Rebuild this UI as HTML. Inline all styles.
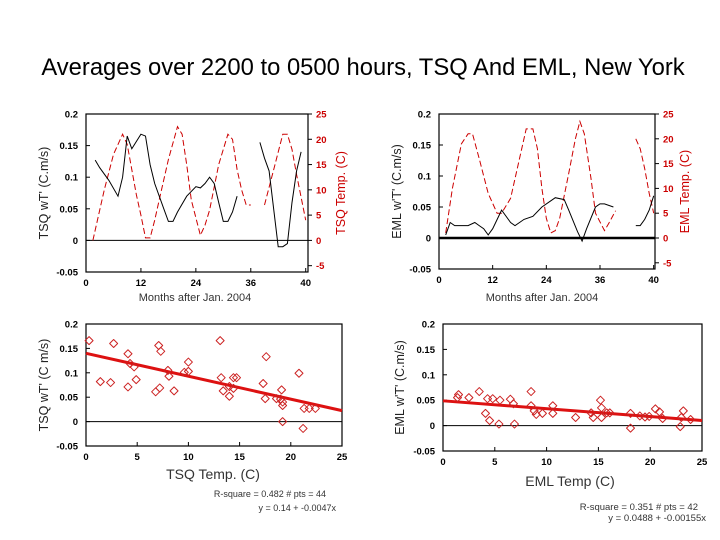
<!DOCTYPE html>
<html><head><meta charset="utf-8"><style>
body{margin:0;background:#fff;}
svg{display:block;font-family:"Liberation Sans",sans-serif;}
</style></head><body>
<svg id="c" width="720" height="540" viewBox="0 0 720 540">
<text x="363" y="75" font-size="23.8" text-anchor="middle">Averages over 2200 to 0500 hours, TSQ And EML, New York</text>
</svg>
<script>
// Panel 1: TSQ time series
const months1=[2,3,5,7,8,9,10,12,13,14,15,17,18,19,20,22,24,25,26,27,28,29,30,31,32,33,34,38,39,40,42,43,44,45,46,47];
const tsqFlux=[0.127,0.115,0.095,0.07,0.1,0.165,0.145,0.168,0.165,0.12,0.09,0.05,0.03,0.03,0.045,0.07,0.085,0.083,0.09,0.1,0.09,0.06,0.03,0.03,0.045,0.07,null,0.155,0.13,0.11,-0.01,-0.01,-0.005,0.06,0.11,0.14];
const monthsT1=[1.5,3,4,6,8,9,10,11,12,13,14,15,16,18,20,21,22,23,25,26,27,29,31,32,33,34,35,36,37,39,41,43,44,45,46,48];
const tsqTemp=[0,6,10,17,21,19,14,9,5,0.5,0.5,4,8,16,22.5,21,15,8,1,3,6,15,21,20,14,10,7,7,null,7,14,21,21,18,13,4];
// Panel 2: EML time series
const months2=[1.5,2.5,3.5,5,6.5,8,9,10,11,12,14,16,17,19,21,23,25,26,28,29,31,32,33,35,36,37,39,40,44,45,46,47,48];
const emlFlux=[0.005,0.025,0.02,0.02,0.02,0.025,0.02,0.015,0.005,0.015,0.045,0.025,0.02,0.03,0.035,0.05,0.06,0.065,0.062,0.045,0.01,-0.005,0.015,0.05,0.055,0.055,0.05,null,0.02,0.02,0.03,0.045,0.068];
const monthsT2=[1.5,3,5,6.5,7.5,9,11,13,14,16,18,19.5,21,22,23,24,25,26,27,29,30.5,31.5,32.5,34,35,37,38,39.5,41,44,45,46,47,48];
const emlTemp=[1,10,19,21,21,16,9,5,5,8,16,22,22,18,10,4,1,1.5,4,13,20,23.5,21,12,5,1.5,3,5.5,null,20,18,14,9,5];
// Panel 3: TSQ scatter
const tsqX=[0.3,2.7,1.4,2.4,4.1,4.3,4.1,4.7,4.9,7.1,7.3,6.8,7.2,8.0,8.1,8.6,9.6,10.0,10.0,13.1,13.2,13.4,14.0,14.4,14.7,14.0,14.4,17.3,17.6,17.5,18.6,19.1,19.2,19.2,19.2,20.8,21.3,21.8,22.4,21.2,19.0];
const tsqY=[0.166,0.16,0.082,0.08,0.139,0.119,0.071,0.112,0.086,0.156,0.144,0.061,0.069,0.105,0.093,0.063,0.101,0.122,0.103,0.166,0.09,0.063,0.052,0.09,0.09,0.072,0.068,0.078,0.133,0.047,0.047,0.065,0.04,0.033,0.0,0.099,0.027,0.027,0.027,-0.014,0.046];
const tsqFit=[0.14,-0.0047];
// Panel 4: EML scatter
const emlX=[1.5,1.4,2.5,3.5,4.3,4.8,5.5,6.5,6.8,4.1,4.5,5.4,6.9,8.5,8.5,8.8,9.0,9.6,10.6,10.6,12.8,14.3,14.5,15.2,15.3,15.3,15.8,16.1,18.1,18.1,19.0,19.5,19.9,20.5,20.9,21.2,22.9,23.0,23.2,23.9];
const emlY=[0.061,0.055,0.055,0.067,0.053,0.053,0.05,0.052,0.043,0.024,0.01,0.003,0.003,0.067,0.039,0.029,0.022,0.024,0.039,0.024,0.016,0.025,0.016,0.05,0.035,0.016,0.025,0.025,0.024,-0.005,0.019,0.017,0.018,0.033,0.027,0.014,-0.002,0.016,0.029,0.012];
const emlFit=[0.0488,-0.00155];
const yTicks=[-0.05,0,0.05,0.1,0.15,0.2];
const yTickLabels=['-0.05','0','0.05','0.1','0.15','0.2'];
const tTicks=[-5,0,5,10,15,20,25];
const mTicks=[0,12,24,36,48];
const mTickLabels=['0','12','24','36','40'];
const sTicks=[0,5,10,15,20,25];

const svg=document.getElementById('c');
const NS='http://www.w3.org/2000/svg';
function mk(tag,attrs,parent){const e=document.createElementNS(NS,tag);for(const k in attrs)e.setAttribute(k,attrs[k]);(parent||svg).appendChild(e);return e;}
function txt(x,y,s,size,anchor,fill,rot,parent){const e=mk('text',{x:x,y:y,'font-size':size,'text-anchor':anchor,fill:fill||'#000'},parent);if(rot)e.setAttribute('transform','rotate(-90 '+x+' '+y+')');e.textContent=s;return e;}
function pathFrom(xs,ys,sx,sy){let d='',pen=false;for(let i=0;i<xs.length;i++){if(ys[i]===null){pen=false;continue;}d+=(pen?'L':'M')+sx(xs[i]).toFixed(1)+' '+sy(ys[i]).toFixed(1);pen=true;}return d;}

function panel(o){
  const g=mk('g',{});
  
  
  const sx=v=>o.x0+(v-o.xmin)/(o.xmax-o.xmin)*(o.x1-o.x0);
  const sy=v=>o.yb-(v+0.05)/0.25*(o.yb-o.yt);
  const box=mk('rect',{x:o.x0,y:o.yt,width:o.x1-o.x0,height:o.yb-o.yt,fill:'none',stroke:'#000','stroke-width':1.2},g);
  
  
  const zl=mk('line',{x1:o.x0,x2:o.x1,y1:sy(0),y2:sy(0),stroke:'#000','stroke-width':o.zw||1},g);
  
  
  yTicks.forEach((t,i)=>{
    const lab=txt(o.x0-8,sy(t)+3.5,yTickLabels[i],9.5,'end','#000',0,g);
    lab.setAttribute('font-weight','bold');
    
    
    mk('line',{x1:o.x0,x2:o.x0+4,y1:sy(t),y2:sy(t),stroke:'#000'},g);
  });
  o.xt.forEach((t,i)=>{
    const lab=txt(sx(t),o.yb+14,o.xl[i],9.5,'middle','#000',0,g);
    lab.setAttribute('font-weight','bold');
    
    
    mk('line',{x1:sx(t),x2:sx(t),y1:o.yb,y2:o.yb-4,stroke:'#000'},g);
  });
  const yl=txt(o.ylx,(o.yt+o.yb)/2,o.ylab,12.5,'middle','#222',1,g);
  
  
  const xl=txt(o.xlx,o.xly,o.xlab,o.xls||11,'middle','#333',0,g);
  
  
  return {g,sx,sy};
}
function rightAxis(p,o){
  const ry=v=>o.yt+(25-v)/25*(p.sy(0)-o.yt);
  tTicks.forEach(t=>{
    const lab=txt(o.x1+8,ry(t)+3.5,String(t),9.5,'start','#cc0000',0,p.g);
    lab.setAttribute('font-weight','bold');
    
    
    mk('line',{x1:o.x1,x2:o.x1+4,y1:ry(t),y2:ry(t),stroke:'#000'},p.g);
  });
  const rl=txt(o.rlx,(o.yt+o.yb)/2,o.rlab,12.5,'middle','#cc0000',1,p.g);
  
  
  return ry;
}

// Panel 1
let o1={name:'tsq-timeseries',x0:86,x1:308,yt:114,yb:272,xmin:0,xmax:48.5,xt:mTicks,xl:mTickLabels,ylab:"TSQ  wT'  (C.m/s)",ylx:48,xlab:'Months after Jan. 2004',xlx:195,xly:301};
let p1=panel(o1);
o1.rlab='TSQ  Temp.  (C)';
o1.rlx=345;
let r1=rightAxis(p1,o1);
let l=mk('path',{d:pathFrom(monthsT1,tsqTemp,p1.sx,r1),fill:'none',stroke:'#cc0000','stroke-width':1,'stroke-dasharray':'6 3'},p1.g);


l=mk('path',{d:pathFrom(months1,tsqFlux,p1.sx,p1.sy),fill:'none',stroke:'#000','stroke-width':1},p1.g);



// Panel 2
let o2={name:'eml-timeseries',x0:439,x1:655,yt:114,yb:269,xmin:0,xmax:48.3,xt:mTicks,xl:mTickLabels,ylab:"EML  w'T'  (C.m/s)",ylx:401,xlab:'Months after Jan. 2004',xlx:542,xly:301,zw:2.5};
let p2=panel(o2);
o2.rlab='EML  Temp.  (C)';o2.rlx=689;
let r2=rightAxis(p2,o2);
l=mk('path',{d:pathFrom(monthsT2,emlTemp,p2.sx,r2),fill:'none',stroke:'#cc0000','stroke-width':1,'stroke-dasharray':'6 3'},p2.g);


l=mk('path',{d:pathFrom(months2,emlFlux,p2.sx,p2.sy),fill:'none',stroke:'#000','stroke-width':1},p2.g);



function scatter(p,xs,ys,fit,nm){
  const fl=mk('line',{x1:p.sx(0),y1:p.sy(fit[0]),x2:p.sx(25),y2:p.sy(fit[0]+fit[1]*25),stroke:'#dd1111','stroke-width':3},p.g);
  
  
  xs.forEach((x,i)=>{
    const cx=p.sx(x),cy=p.sy(ys[i]);
    const d=mk('path',{d:`M${cx-4} ${cy}L${cx} ${cy-4}L${cx+4} ${cy}L${cx} ${cy+4}Z`,fill:'none',stroke:'#cc2222','stroke-width':1},p.g);
    d.setAttribute('stroke-linejoin','round');
    
    
  });
}
// Panel 3
let o3={name:'tsq-scatter',x0:86,x1:342,yt:324,yb:446,xmin:0,xmax:25,xt:sTicks,xl:sTicks.map(String),ylab:"TSQ  wT'  (C m/s)",ylx:48,xlab:'TSQ  Temp.  (C)',xlx:213,xly:479,xls:14};
let p3=panel(o3);
scatter(p3,tsqX,tsqY,tsqFit,'tsq');
let s=txt(326,497,'R-square = 0.482   # pts = 44',9,'end','#333');


s=txt(336,511,'y = 0.14 + -0.0047x',9,'end','#333');


// Panel 4
let o4={name:'eml-scatter',x0:443,x1:702,yt:324,yb:451,xmin:0,xmax:25,xt:sTicks,xl:sTicks.map(String),ylab:"EML  w'T'  (C.m/s)",ylx:404,xlab:'EML  Temp  (C)',xlx:570,xly:486,xls:14};
let p4=panel(o4);
scatter(p4,emlX,emlY,emlFit,'eml');
s=txt(698,510,'R-square = 0.351   # pts = 42',9.5,'end','#333');


s=txt(706,521,'y = 0.0488 + -0.00155x',9.5,'end','#333');


</script>
</body></html>
